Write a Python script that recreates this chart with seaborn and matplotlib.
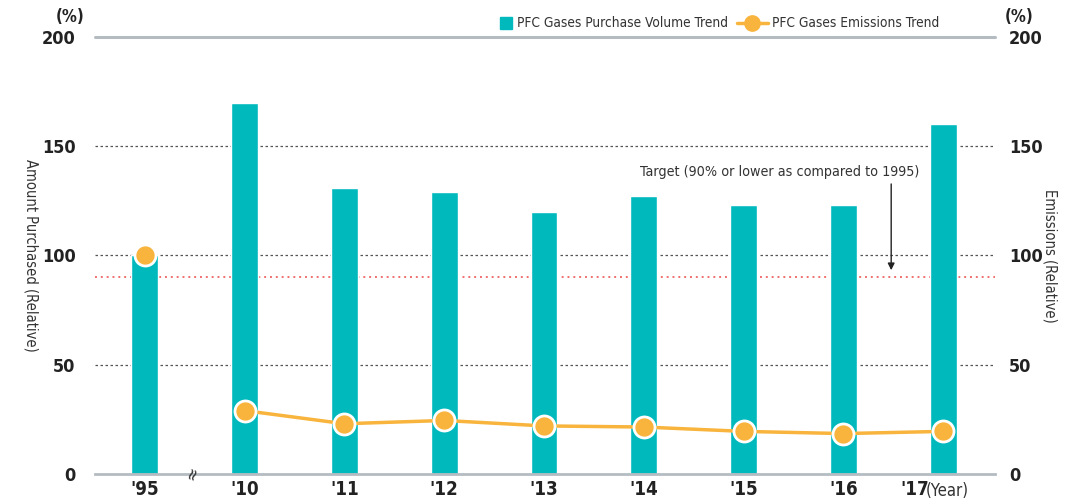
import numpy as np
import pandas as pd
import matplotlib.pyplot as plt
import matplotlib.transforms as mtransforms
import seaborn as sns

years = ["'95", "'10", "'11", "'12", "'13", "'14", "'15", "'16", "'17"]
purchase = [100, 170, 131, 129, 120, 127, 123, 123, 160]
emissions = [100, 29, 23, 24.5, 22, 21.5, 19.5, 18.5, 19.5]
target = 90

TEAL = '#00b9bd'
ORANGE = '#f8b43c'
GRAY = '#b4bcc2'
DARK = '#222222'

sns.set_style('white')
plt.rcParams['font.family'] = ['DejaVu Sans']
plt.rcParams['font.stretch'] = 'condensed'

fig = plt.figure(figsize=(10.68, 4.99), dpi=100)
ax = fig.add_axes([0.089, 0.0501, 0.8426, 0.8758])

df = pd.DataFrame({'year': years, 'purchase': purchase, 'emissions': emissions})
df['pos'] = np.arange(len(years))

sns.barplot(data=df, x='year', y='purchase', color=TEAL, width=0.27,
            saturation=1, ax=ax, zorder=3)

# emissions line: '95 point stands alone (axis break)
seg = df.iloc[1:]
sns.lineplot(x=seg['pos'], y=seg['emissions'], color=ORANGE, lw=2.5, ax=ax,
             zorder=4)
ax.scatter(df['pos'], df['emissions'], s=230, color=ORANGE, edgecolor='white',
           linewidth=2, zorder=5)

ax.set_xlim(-0.5, 8.52)
ax.set_ylim(0, 200)

for v in [50, 100, 150]:
    ax.axhline(v, color='#555555', lw=0.9, ls=(0, (2, 2)), zorder=1)
ax.axhline(200, color=GRAY, lw=2.2, zorder=2, clip_on=False)
ax.axhline(target, color='#f07070', lw=1.4, ls=(0, (1, 2)), zorder=2)

for s in ['left', 'right', 'top']:
    ax.spines[s].set_visible(False)
ax.spines['bottom'].set_color(GRAY)
ax.spines['bottom'].set_linewidth(2)
ax.spines['bottom'].set_zorder(6)

yt = [0, 50, 100, 150, 200]
ax.set_yticks(yt)
ax.set_yticklabels([str(v) for v in yt], fontsize=13, fontweight='bold',
                   color=DARK)
ax.tick_params(axis='y', length=0, pad=14)
ax.set_xticks(range(len(years)))
ax.set_xticklabels(years, fontsize=13.5, fontweight='bold', color=DARK)
ax.tick_params(axis='x', length=0, pad=4)
last = ax.get_xticklabels()[-1]
last.set_transform(last.get_transform() +
                   mtransforms.ScaledTranslation(-0.28, 0, fig.dpi_scale_trans))
ax.set_xlabel('')
ax.set_ylabel('Amount Purchased (Relative)', rotation=-90, fontsize=10.5,
              color='#333333')
ax.yaxis.set_label_coords(-0.08, 0.5)

ax2 = ax.twinx()
ax2.set_ylim(0, 200)
ax2.set_yticks(yt)
ax2.set_yticklabels([str(v) for v in yt], fontsize=13, fontweight='bold',
                    color=DARK)
ax2.tick_params(axis='y', length=0, pad=10)
for s in ax2.spines.values():
    s.set_visible(False)
ax2.set_ylabel('Emissions (Relative)', rotation=-90, fontsize=10.5,
               color='#333333')
ax2.yaxis.set_label_coords(1.07, 0.5)

ax.text(-0.012, 1.045, '(%)', transform=ax.transAxes, ha='right',
        va='center', fontsize=12, fontweight='bold', color=DARK)
ax.text(1.011, 1.045, '(%)', transform=ax.transAxes, ha='left', va='center',
        fontsize=12, fontweight='bold', color=DARK)

# axis break mark
ax.text(0.48, 0, '≈', rotation=70, ha='center', va='center', fontsize=13,
        color='#333333', zorder=7)
ax.text(7.83, -8, '(Year)', ha='left', va='center', fontsize=12,
        color='#333333', clip_on=False)

ax.text(6.36, 138, 'Target (90% or lower as compared to 1995)', ha='center',
        va='center', fontsize=10.3, color='#333333')
ax.annotate('', xy=(7.48, 92), xytext=(7.48, 134),
            arrowprops=dict(arrowstyle='-|>', color=DARK, lw=1,
                            mutation_scale=10))

# legend
fig.patches.append(plt.Rectangle((0.4685, 0.942), 0.011, 0.024,
                                 transform=fig.transFigure, color=TEAL))
fig.text(0.484, 0.953, 'PFC Gases Purchase Volume Trend', fontsize=9.8,
         va='center', color='#333333')
fig.lines.append(plt.Line2D([0.69, 0.719], [0.953, 0.953], color=ORANGE,
                            lw=2.5, transform=fig.transFigure))
fig.lines.append(plt.Line2D([0.7045], [0.953], marker='o', ms=11,
                            color=ORANGE, mec=ORANGE,
                            transform=fig.transFigure))
fig.text(0.723, 0.953, 'PFC Gases Emissions Trend', fontsize=9.8,
         va='center', color='#333333')

fig.savefig('out.png', dpi=100)
